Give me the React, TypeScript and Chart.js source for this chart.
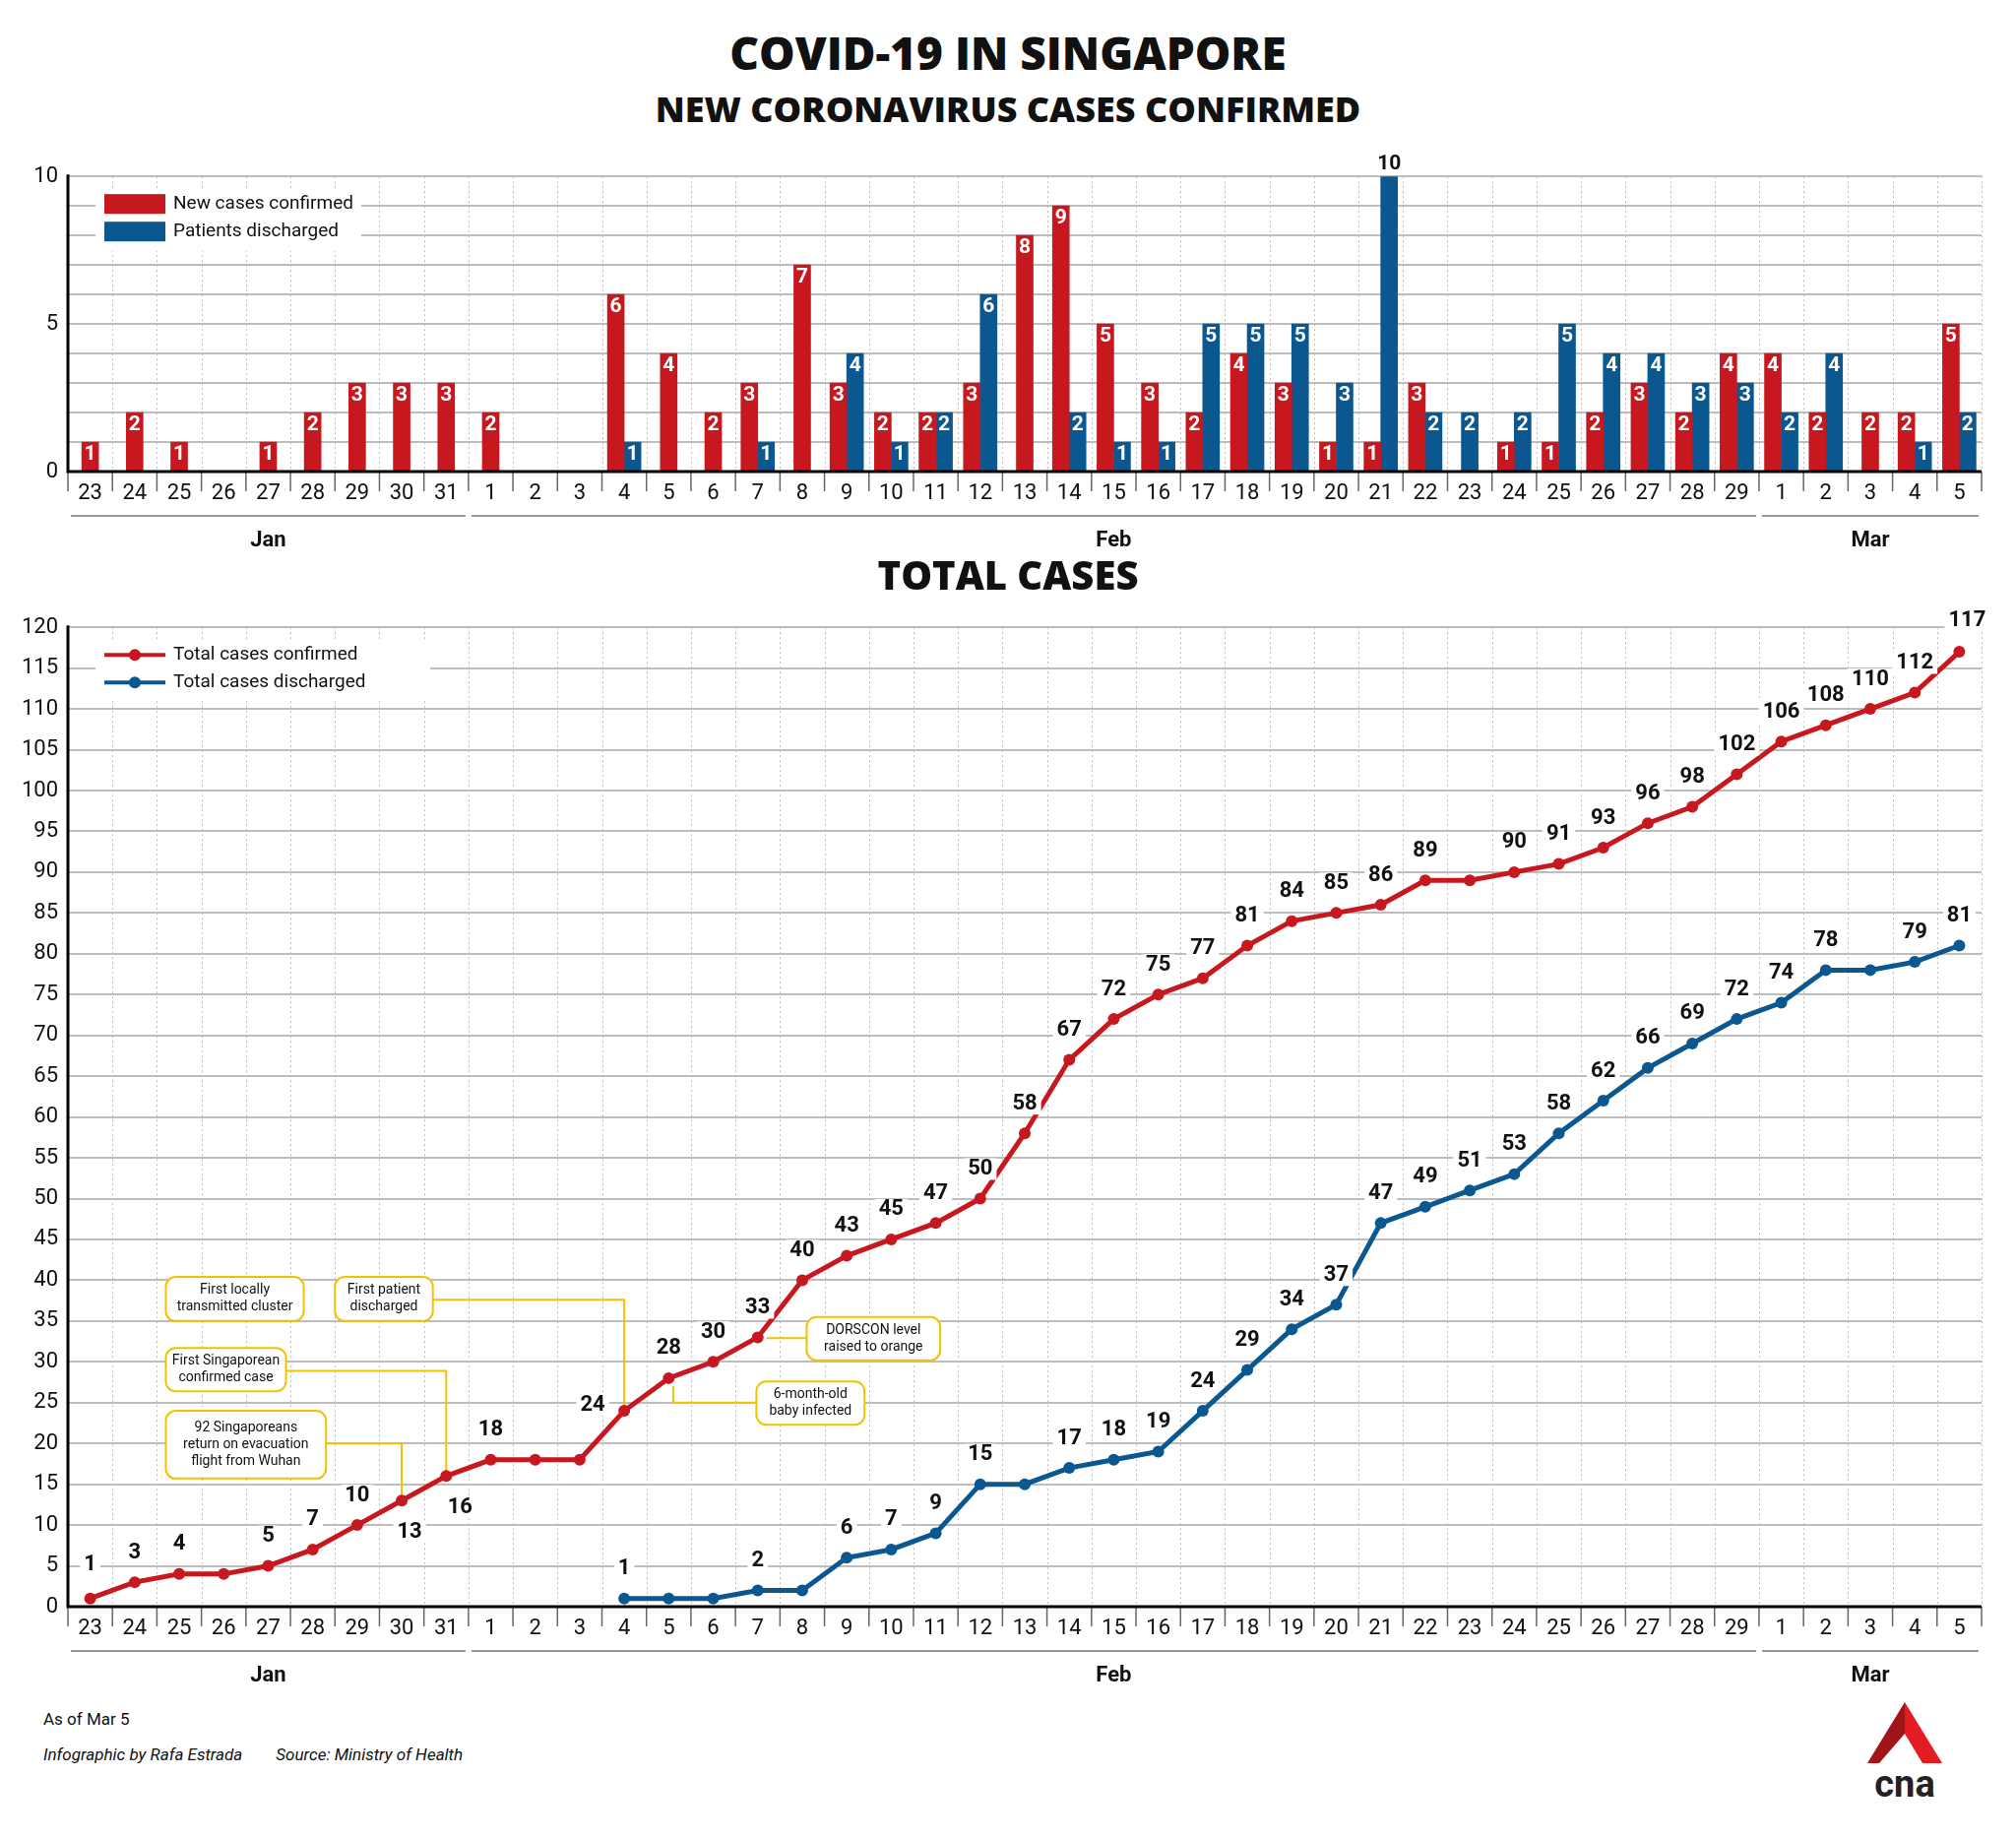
import React, { useEffect, useRef } from "react";
import { Chart, registerables } from "chart.js";
Chart.register(...registerables);

const days = ["23","24","25","26","27","28","29","30","31","1","2","3","4","5","6","7","8","9","10","11","12","13","14","15","16","17","18","19","20","21","22","23","24","25","26","27","28","29","1","2","3","4","5"];
const months = [
  { name: "Jan", from: 0, to: 8 },
  { name: "Feb", from: 9, to: 37 },
  { name: "Mar", from: 38, to: 42 },
];
const newCases = [1,2,1,null,1,2,3,3,3,2,null,null,6,4,2,3,7,3,2,2,3,8,9,5,3,2,4,3,1,1,3,null,1,1,2,3,2,4,4,2,2,2,5];
const discharged = [null,null,null,null,null,null,null,null,null,null,null,null,1,null,null,1,null,4,1,2,6,null,2,1,1,5,5,5,3,10,2,2,2,5,4,4,3,3,2,4,null,1,2];
const totalConfirmed = [1,3,4,4,5,7,10,13,16,18,18,18,24,28,30,33,40,43,45,47,50,58,67,72,75,77,81,84,85,86,89,89,90,91,93,96,98,102,106,108,110,112,117];
const totalDischarged = [null,null,null,null,null,null,null,null,null,null,null,null,1,1,1,2,2,6,7,9,15,15,17,18,19,24,29,34,37,47,49,51,53,58,62,66,69,72,74,78,78,79,81];

const RED = "#c8181f";
const BLUE = "#0b5891";
const FONT = "Roboto, 'Open Sans', sans-serif";

function dottedVerticals(chart: any, ctx: CanvasRenderingContext2D) {
  const xs = chart.scales.x;
  const ca = chart.chartArea;
  const step = xs.getPixelForValue(1) - xs.getPixelForValue(0);
  ctx.save();
  ctx.strokeStyle = "#bcbcbc";
  ctx.lineWidth = 1;
  ctx.setLineDash([2, 3]);
  for (let i = 1; i <= days.length; i++) {
    const x = Math.round(xs.getPixelForValue(0) - step / 2 + i * step) + 0.5;
    ctx.beginPath();
    ctx.moveTo(x, ca.top);
    ctx.lineTo(x, ca.bottom);
    ctx.stroke();
  }
  ctx.restore();
}

function axisBand(chart: any, ctx: CanvasRenderingContext2D) {
  const xs = chart.scales.x;
  const ca = chart.chartArea;
  const step = xs.getPixelForValue(1) - xs.getPixelForValue(0);
  ctx.save();
  ctx.strokeStyle = "#666";
  ctx.lineWidth = 1.5;
  for (let i = 0; i <= days.length; i++) {
    const x = xs.getPixelForValue(0) - step / 2 + i * step;
    ctx.beginPath();
    ctx.moveTo(x, ca.bottom);
    ctx.lineTo(x, ca.bottom + 20);
    ctx.stroke();
  }
  ctx.fillStyle = "#111";
  ctx.font = `22px ${FONT}`;
  ctx.textAlign = "center";
  ctx.textBaseline = "middle";
  days.forEach((d, i) => ctx.fillText(d, xs.getPixelForValue(i), ca.bottom + 22));
  ctx.strokeStyle = "#999";
  ctx.lineWidth = 2;
  months.forEach((m) => {
    const a = xs.getPixelForValue(m.from) - step / 2 + 3;
    const b = xs.getPixelForValue(m.to) + step / 2 - 3;
    ctx.beginPath();
    ctx.moveTo(a, ca.bottom + 45);
    ctx.lineTo(b, ca.bottom + 45);
    ctx.stroke();
    ctx.font = `bold 22px ${FONT}`;
    ctx.fillText(m.name, (a + b) / 2, ca.bottom + 70);
  });
  ctx.strokeStyle = "#000";
  ctx.lineWidth = 3;
  ctx.beginPath();
  ctx.moveTo(ca.left, ca.top - 2);
  ctx.lineTo(ca.left, ca.bottom);
  ctx.lineTo(ca.right, ca.bottom);
  ctx.stroke();
  ctx.restore();
}

const topPlugin = {
  id: "topDeco",
  beforeDatasetsDraw(chart: any) {
    dottedVerticals(chart, chart.ctx);
  },
  afterDatasetsDraw(chart: any) {
    const ctx = chart.ctx as CanvasRenderingContext2D;
    axisBand(chart, ctx);
    ctx.save();
    ctx.font = `bold 21px ${FONT}`;
    ctx.textAlign = "center";
    ctx.textBaseline = "top";
    chart.data.datasets.forEach((ds: any, di: number) => {
      const meta = chart.getDatasetMeta(di);
      ds.data.forEach((v: any, i: number) => {
        if (v == null) return;
        const el = meta.data[i];
        if (v >= 10) {
          ctx.fillStyle = "#111";
          ctx.textBaseline = "bottom";
          ctx.fillText(String(v), el.x, el.y - 2);
          ctx.textBaseline = "top";
        } else {
          ctx.fillStyle = "#fff";
          ctx.fillText(String(v), el.x, el.y + 2);
        }
      });
    });
    const ca = chart.chartArea;
    ctx.fillStyle = "#fff";
    ctx.fillRect(ca.left + 28, ca.top + 14, 270, 62);
    const items = [["New cases confirmed", RED], ["Patients discharged", BLUE]];
    items.forEach(([t, c], k) => {
      const y = ca.top + 18 + k * 28;
      ctx.fillStyle = c;
      ctx.fillRect(ca.left + 37, y, 62, 20);
      ctx.fillStyle = "#111";
      ctx.font = `19px ${FONT}`;
      ctx.textBaseline = "middle";
      ctx.textAlign = "left";
      ctx.fillText(t, ca.left + 107, y + 10);
    });
    ctx.restore();
  },
};

const notes = [
  { lines: ["First locally", "transmitted cluster"], x0: 1.7, x1: 4.8, y0: 40.4, y1: 35.0 },
  { lines: ["First patient", "discharged"], x0: 5.5, x1: 7.7, y0: 40.4, y1: 35.0, link: { y: 37.6, x: 12, to: 24 } },
  { lines: ["First Singaporean", "confirmed case"], x0: 1.7, x1: 4.4, y0: 31.7, y1: 26.4, link: { y: 28.9, x: 8, to: 16 } },
  { lines: ["92 Singaporeans", "return on evacuation", "flight from Wuhan"], x0: 1.7, x1: 5.3, y0: 24.0, y1: 15.7, link: { y: 20, x: 7, to: 13 } },
  { lines: ["DORSCON level", "raised to orange"], x0: 16.1, x1: 19.1, y0: 35.5, y1: 30.2, linkL: { y: 32.9, x: 15.2, to: 32.9 } },
  { lines: ["6-month-old", "baby infected"], x0: 14.97, x1: 17.4, y0: 27.6, y1: 22.3, linkL: { y: 25, x: 13.1, to: 27 } },
];

const labelOffsets: Record<string, [number, number]> = {
  "r7": [8, 32], "r8": [14, 32], "r12": [-32, -6], "r0": [0, -34], "r42": [8, -32],
};

function roundRect(ctx: CanvasRenderingContext2D, x: number, y: number, w: number, h: number, r: number) {
  ctx.beginPath();
  ctx.moveTo(x + r, y);
  ctx.arcTo(x + w, y, x + w, y + h, r);
  ctx.arcTo(x + w, y + h, x, y + h, r);
  ctx.arcTo(x, y + h, x, y, r);
  ctx.arcTo(x, y, x + w, y, r);
  ctx.closePath();
}

const bottomPlugin = {
  id: "bottomDeco",
  beforeDatasetsDraw(chart: any) {
    const ctx = chart.ctx as CanvasRenderingContext2D;
    dottedVerticals(chart, ctx);
    const xs = chart.scales.x, ys = chart.scales.y;
    const step = xs.getPixelForValue(1) - xs.getPixelForValue(0);
    const px = (i: number) => xs.getPixelForValue(0) + i * step;
    ctx.save();
    const ca = chart.chartArea;
    ctx.fillStyle = "#fff";
    ctx.fillRect(ca.left + 28, ca.top + 12, 340, 62);
    ctx.lineWidth = 2;
    notes.forEach((n: any) => {
      ctx.strokeStyle = "#f2c200";
      if (n.link) {
        ctx.beginPath();
        ctx.moveTo(px(n.x1), ys.getPixelForValue(n.link.y));
        ctx.lineTo(px(n.link.x), ys.getPixelForValue(n.link.y));
        ctx.lineTo(px(n.link.x), ys.getPixelForValue(n.link.to));
        ctx.stroke();
      }
      if (n.linkL) {
        ctx.beginPath();
        ctx.moveTo(px(n.x0), ys.getPixelForValue(n.linkL.y));
        ctx.lineTo(px(n.linkL.x), ys.getPixelForValue(n.linkL.y));
        ctx.lineTo(px(n.linkL.x), ys.getPixelForValue(n.linkL.to));
        ctx.stroke();
      }
    });
    ctx.restore();
  },
  afterDatasetsDraw(chart: any) {
    const ctx = chart.ctx as CanvasRenderingContext2D;
    axisBand(chart, ctx);
    const xs = chart.scales.x, ys = chart.scales.y;
    const step = xs.getPixelForValue(1) - xs.getPixelForValue(0);
    const px = (i: number) => xs.getPixelForValue(0) + i * step;
    ctx.save();
    notes.forEach((n: any) => {
      const x = px(n.x0), y = ys.getPixelForValue(n.y0);
      const w = px(n.x1) - x, h = ys.getPixelForValue(n.y1) - y;
      roundRect(ctx, x, y, w, h, 10);
      ctx.fillStyle = "#fff";
      ctx.fill();
      ctx.strokeStyle = "#f2c200";
      ctx.lineWidth = 2;
      ctx.stroke();
      ctx.fillStyle = "#111";
      ctx.font = `14px ${FONT}`;
      ctx.textAlign = "center";
      ctx.textBaseline = "middle";
      const lh = 17;
      n.lines.forEach((t: string, k: number) => {
        ctx.fillText(t, x + w / 2, y + h / 2 + (k - (n.lines.length - 1) / 2) * lh);
      });
    });
    ctx.font = `bold 22px ${FONT}`;
    ctx.textAlign = "center";
    ctx.textBaseline = "middle";
    chart.data.datasets.forEach((ds: any, di: number) => {
      const meta = chart.getDatasetMeta(di);
      ds.data.forEach((v: any, i: number) => {
        if (v == null) return;
        const key = (di === 0 ? "r" : "b") + i;
        if (di === 0 && i > 0 && totalConfirmed[i - 1] === v) return;
        if (di === 1 && i > 0 && totalDischarged[i - 1] === v) return;
        const el = meta.data[i];
        const [dx, dy] = labelOffsets[key] || [0, -30];
        const tw = ctx.measureText(String(v)).width;
        ctx.fillStyle = "#fff";
        ctx.fillRect(el.x + dx - tw / 2 - 4, el.y + dy - 11, tw + 8, 22);
        ctx.fillStyle = "#111";
        ctx.fillText(String(v), el.x + dx, el.y + dy);
      });
    });
    const ca = chart.chartArea;
    const items = [["Total cases confirmed", RED], ["Total cases discharged", BLUE]];
    items.forEach(([t, c], k) => {
      const y = ca.top + 28 + k * 28;
      ctx.strokeStyle = c;
      ctx.fillStyle = c;
      ctx.lineWidth = 4;
      ctx.beginPath();
      ctx.moveTo(ca.left + 37, y);
      ctx.lineTo(ca.left + 99, y);
      ctx.stroke();
      ctx.beginPath();
      ctx.arc(ca.left + 68, y, 6, 0, Math.PI * 2);
      ctx.fill();
      ctx.fillStyle = "#111";
      ctx.font = `19px ${FONT}`;
      ctx.textAlign = "left";
      ctx.fillText(t, ca.left + 107, y);
    });
    ctx.restore();
  },
};

function fitY(w: number) {
  return (s: any) => { s.width = w; };
}
function fitX(h: number) {
  return (s: any) => { s.height = h; };
}

function TopChart() {
  const ref = useRef<HTMLCanvasElement>(null);
  useEffect(() => {
    const c = new Chart(ref.current!, {
      type: "bar",
      data: {
        labels: days.map((d, i) => d + "_" + i),
        datasets: [
          { data: newCases, backgroundColor: RED, barThickness: 17, categoryPercentage: 0.86, barPercentage: 0.85, skipNull: true } as any,
          { data: discharged, backgroundColor: BLUE, barThickness: 17, categoryPercentage: 0.86, barPercentage: 0.85, skipNull: true } as any,
        ],
      },
      options: {
        animation: false,
        responsive: false,
        devicePixelRatio: 1,
        layout: { padding: { top: 4, right: 35, left: 0, bottom: 0 } },
        plugins: { legend: { display: false }, tooltip: { enabled: false } },
        scales: {
          x: {
            grid: { display: false },
            border: { display: false },
            ticks: { display: false },
            afterFit: fitX(88),
          },
          y: {
            min: 0, max: 10,
            grid: { color: "#bdbdbd", lineWidth: 2, drawTicks: false },
            border: { display: false },
            ticks: { stepSize: 1, autoSkip: false, padding: 10, color: "#111", font: { size: 22, family: FONT }, callback: (v: any) => (v % 5 === 0 ? v : "") },
            afterFit: fitY(69),
          },
        },
      },
      plugins: [topPlugin],
    });
    return () => c.destroy();
  }, []);
  return <canvas ref={ref} width={2048} height={411} style={{ position: "absolute", left: 0, top: 156 }} />;
}

function BottomChart() {
  const ref = useRef<HTMLCanvasElement>(null);
  useEffect(() => {
    const c = new Chart(ref.current!, {
      type: "line",
      data: {
        labels: days.map((d, i) => d + "_" + i),
        datasets: [
          { data: totalConfirmed, borderColor: RED, backgroundColor: RED, borderWidth: 5, pointRadius: 6, pointBackgroundColor: RED, pointBorderWidth: 0 },
          { data: totalDischarged, borderColor: BLUE, backgroundColor: BLUE, borderWidth: 5, pointRadius: 6, pointBackgroundColor: BLUE, pointBorderWidth: 0 },
        ],
      },
      options: {
        animation: false,
        responsive: false,
        devicePixelRatio: 1,
        layout: { padding: { top: 23, right: 35, left: 0, bottom: 0 } },
        plugins: { legend: { display: false }, tooltip: { enabled: false } },
        scales: {
          x: {
            offset: true,
            grid: { display: false },
            border: { display: false },
            ticks: { display: false },
            afterFit: fitX(90),
          },
          y: {
            min: 0, max: 120,
            grid: { color: "#bdbdbd", lineWidth: 2, drawTicks: false },
            border: { display: false },
            ticks: { stepSize: 5, autoSkip: false, padding: 10, color: "#111", font: { size: 22, family: FONT } },
            afterFit: fitY(69),
          },
        },
      },
      plugins: [bottomPlugin],
    });
    return () => c.destroy();
  }, []);
  return <canvas ref={ref} width={2048} height={1108} style={{ position: "absolute", left: 0, top: 614 }} />;
}

export default function App() {
  const center: React.CSSProperties = { position: "absolute", left: 0, width: 2048, textAlign: "center", fontFamily: "'Open Sans', sans-serif", fontWeight: 800, color: "#111", margin: 0 };
  return (
    <div style={{ position: "relative", width: 2048, height: 1868, background: "#fff", margin: -8, overflow: "hidden" }}>
      <div style={{ ...center, top: 22, fontSize: 46 }}>COVID-19 IN SINGAPORE</div>
      <div style={{ ...center, top: 86, fontSize: 36 }}>NEW CORONAVIRUS CASES CONFIRMED</div>
      <TopChart />
      <div style={{ ...center, top: 556, fontSize: 40 }}>TOTAL CASES</div>
      <BottomChart />
      <div style={{ position: "absolute", left: 44, top: 1736, fontFamily: FONT, fontSize: 17, color: "#111" }}>As of Mar 5</div>
      <div style={{ position: "absolute", left: 44, top: 1772, fontFamily: FONT, fontSize: 17, fontStyle: "italic", color: "#111" }}>
        Infographic by Rafa Estrada<span style={{ marginLeft: 34 }}>Source: Ministry of Health</span>
      </div>
      <svg style={{ position: "absolute", left: 1895, top: 1729 }} width={80} height={100} viewBox="0 0 80 100">
        <polygon points="40,0 78,62 58,62 40,32" fill="#e31b23" />
        <polygon points="40,0 40,32 14,62 2,62" fill="#a0141a" />
        <text x="40" y="96" textAnchor="middle" fontFamily="Roboto, sans-serif" fontWeight="700" fontSize="38" fill="#222">cna</text>
      </svg>
    </div>
  );
}
